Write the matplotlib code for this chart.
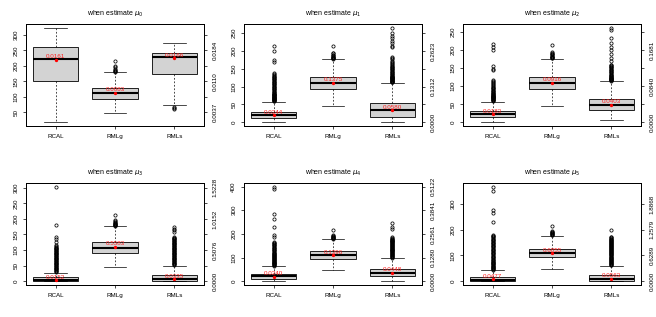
import matplotlib
matplotlib.use('Agg')
import matplotlib.pyplot as plt

plt.rcParams['font.family'] = ['Liberation Sans', 'DejaVu Sans']

groups = ['RCAL', 'RMLg', 'RMLs']
titles = ['when estimate $\\mu_0$', 'when estimate $\\mu_1$', 'when estimate $\\mu_2$',
          'when estimate $\\mu_3$', 'when estimate $\\mu_4$', 'when estimate $\\mu_5$']

# ---- box statistics per panel (RCAL, RMLg, RMLs) ----
p0_med = [222, 111, 228]; p0_q1 = [152, 94, 173]; p0_q3 = [260, 130, 240]
p0_lo = [18, 49, 75]; p0_hi = [323, 179, 274]; p0_mean = [219, 113, 225]
p0_fl_rcal = []
p0_fl_rmlg = [181, 183, 185, 187, 190, 195, 200, 216]
p0_fl_rmls = [62, 64, 66]
p0_text = ['0.0161', '0.0083', '0.0166']
p0_lticks = [50, 100, 150, 200, 250, 300]
p0_rticks = [50, 100, 150, 200, 250, 300]
p0_rlabels = ['0.0037', '', '0.0110', '', '0.0184', '']

p1_med = [20, 110, 34]; p1_q1 = [11, 94, 16]; p1_q3 = [27.5, 127, 54]
p1_lo = [0, 46, 0]; p1_hi = [57.7, 177, 111]; p1_mean = [19, 110, 34]
p1_fl_rcal = [59, 60, 61, 62, 63, 64, 65, 66, 67, 68, 69, 70, 71, 72, 73, 74, 75, 76, 77, 78,
              79, 80, 82, 84, 86, 88, 90, 92, 94, 96, 98, 100, 102, 104, 106, 108, 110, 112,
              114, 116, 118, 120, 122, 124, 126, 128, 130, 133, 136, 138, 169, 175, 200, 215]
p1_fl_rmlg = [178, 179, 180, 181, 182, 184, 186, 188, 190, 193, 195, 214]
p1_fl_rmls = [112, 113, 114, 115, 116, 117, 118, 119, 120, 121, 122, 123, 124, 125, 126, 127,
              128, 129, 130, 132, 134, 136, 138, 140, 142, 144, 146, 148, 150, 152, 154, 156,
              158, 160, 162, 165, 169, 172, 176, 180, 183, 210, 215, 222, 228, 235, 242, 250, 265]
p1_text = ['0.0244', '0.1375', '0.0580']
p1_lticks = [0, 50, 100, 150, 200, 250]
p1_rticks = [0, 50, 100, 150, 200, 250]
p1_rlabels = ['0.0000', '', '0.1312', '', '0.2623', '']

p2_med = [23, 109, 48]; p2_q1 = [15, 92.6, 33]; p2_q3 = [31.5, 126, 65]
p2_lo = [0, 44, 5]; p2_hi = [56.5, 176, 113]; p2_mean = [22, 109, 48]
p2_fl_rcal = [60, 61, 62, 63, 64, 65, 66, 67, 68, 69, 70, 71, 72, 73, 74, 75, 76, 77, 78, 80,
              82, 84, 86, 88, 90, 92, 94, 96, 98, 100, 103, 106, 109, 112, 115, 118, 144, 148,
              157, 199, 208, 218]
p2_fl_rmlg = [178, 179, 180, 181, 182, 184, 186, 188, 190, 193, 195, 214]
p2_fl_rmls = [115, 116, 117, 118, 119, 120, 121, 122, 123, 124, 125, 126, 127, 128, 130, 132,
              134, 136, 138, 140, 142, 144, 146, 148, 150, 152, 154, 156, 158, 160, 169, 179,
              188, 199, 208, 220, 234, 257, 262]
p2_text = ['0.0183', '0.0916', '0.0403']
p2_lticks = [0, 50, 100, 150, 200, 250]
p2_rticks = [0, 50, 100, 150, 200, 250]
p2_rlabels = ['0.0000', '', '0.0840', '', '0.1681', '']

p3_med = [3, 108, 6]; p3_q1 = [0.5, 91, 0.5]; p3_q3 = [12, 125, 19]
p3_lo = [0, 46, 0]; p3_hi = [27, 177, 50]; p3_mean = [3, 110, 6.6]
p3_fl_rcal = [30, 32, 34, 36, 38, 40, 42, 44, 46, 48, 50, 52, 54, 56, 58, 60, 62, 64, 66, 68,
              70, 72, 74, 76, 78, 80, 82, 84, 86, 88, 90, 92, 94, 96, 98, 100, 102, 104, 106,
              108, 110, 112, 115, 126, 137, 142, 180, 303]
p3_fl_rmlg = [178, 179, 180, 181, 182, 184, 186, 188, 190, 193, 195, 214]
p3_fl_rmls = [52, 54, 56, 58, 60, 62, 64, 66, 68, 70, 72, 74, 76, 78, 80, 82, 84, 86, 88, 90,
              92, 94, 96, 98, 100, 102, 104, 106, 108, 110, 112, 114, 116, 118, 120, 122, 124,
              126, 128, 130, 132, 134, 136, 138, 140, 142, 159, 165, 169, 175]
p3_text = ['0.0152', '0.5583', '0.0335']
p3_lticks = [0, 50, 100, 150, 200, 250, 300]
p3_rticks = [0, 50, 100, 150, 200, 250, 300]
p3_rlabels = ['0.0000', '', '0.5076', '', '1.0152', '', '1.5228']

p4_med = [21, 110, 35]; p4_q1 = [10, 93, 21]; p4_q3 = [32, 127, 53.5]
p4_lo = [0, 46, 0]; p4_hi = [63, 177, 99]; p4_mean = [19, 109, 35]
p4_fl_rcal = [65, 67, 69, 71, 73, 75, 77, 79, 81, 83, 85, 87, 89, 91, 93, 95, 97, 99, 101, 103,
              105, 107, 109, 111, 113, 115, 118, 121, 124, 127, 130, 133, 136, 139, 142, 145,
              148, 151, 154, 157, 160, 163, 166, 187, 194, 230, 261, 286, 389, 399]
p4_fl_rmlg = [180, 181, 182, 184, 186, 188, 190, 193, 195, 215]
p4_fl_rmls = [100, 102, 104, 106, 108, 110, 112, 114, 116, 118, 120, 122, 124, 126, 128, 130,
              132, 134, 136, 138, 140, 142, 144, 146, 148, 150, 152, 154, 156, 158, 160, 162,
              164, 166, 168, 170, 172, 174, 176, 178, 180, 183, 187, 222, 230, 246]
p4_text = ['0.0240', '0.1396', '0.0448']
p4_lticks = [0, 100, 200, 300, 400]
p4_rticks = [0, 100, 200, 300, 400]
p4_rlabels = ['0.0000', '0.1280', '0.2561', '0.3841', '0.5122']

p5_med = [6.5, 108, 8]; p5_q1 = [0.5, 95, 0.5]; p5_q3 = [17, 127, 23]
p5_lo = [0, 48, 0]; p5_hi = [43, 177, 60]; p5_mean = [7.6, 109, 9]
p5_fl_rcal = [45, 47, 49, 51, 53, 55, 57, 59, 61, 63, 65, 67, 69, 71, 73, 75, 78, 81, 84, 87,
              90, 93, 96, 99, 102, 105, 108, 111, 114, 117, 120, 123, 126, 129, 132, 135, 138,
              141, 144, 147, 150, 153, 156, 159, 162, 165, 168, 171, 174, 177, 180, 229, 264,
              277, 351, 367]
p5_fl_rmlg = [180, 181, 182, 184, 186, 188, 190, 193, 195, 214]
p5_fl_rmls = [62, 64, 66, 68, 70, 72, 74, 76, 78, 80, 82, 84, 86, 88, 90, 92, 94, 96, 98, 100,
              102, 104, 106, 108, 110, 112, 114, 116, 118, 120, 122, 124, 126, 128, 130, 132,
              134, 136, 138, 140, 142, 144, 146, 148, 150, 152, 154, 156, 158, 160, 162, 164,
              166, 168, 170, 173, 199]
p5_text = ['0.0477', '0.6855', '0.0563']
p5_lticks = [0, 100, 200, 300]
p5_rticks = [0, 100, 200, 300]
p5_rlabels = ['0.0000', '0.6289', '1.2579', '1.8868']

panels = [
    (p0_med, p0_q1, p0_q3, p0_lo, p0_hi, p0_mean, [p0_fl_rcal, p0_fl_rmlg, p0_fl_rmls], p0_text, p0_lticks, p0_rticks, p0_rlabels),
    (p1_med, p1_q1, p1_q3, p1_lo, p1_hi, p1_mean, [p1_fl_rcal, p1_fl_rmlg, p1_fl_rmls], p1_text, p1_lticks, p1_rticks, p1_rlabels),
    (p2_med, p2_q1, p2_q3, p2_lo, p2_hi, p2_mean, [p2_fl_rcal, p2_fl_rmlg, p2_fl_rmls], p2_text, p2_lticks, p2_rticks, p2_rlabels),
    (p3_med, p3_q1, p3_q3, p3_lo, p3_hi, p3_mean, [p3_fl_rcal, p3_fl_rmlg, p3_fl_rmls], p3_text, p3_lticks, p3_rticks, p3_rlabels),
    (p4_med, p4_q1, p4_q3, p4_lo, p4_hi, p4_mean, [p4_fl_rcal, p4_fl_rmlg, p4_fl_rmls], p4_text, p4_lticks, p4_rticks, p4_rlabels),
    (p5_med, p5_q1, p5_q3, p5_lo, p5_hi, p5_mean, [p5_fl_rcal, p5_fl_rmlg, p5_fl_rmls], p5_text, p5_lticks, p5_rticks, p5_rlabels),
]

W, H = 656, 317
fig = plt.figure(figsize=(W / 100, H / 100), dpi=100)
fig.patch.set_facecolor('white')

col_left = [26, 244, 463]
row_top = [24, 183]
aw, ah = 178, 102

FS = 4.5
for i, (med, q1, q3, lo, hi, mean, fliers, texts, lticks, rticks, rlabels) in enumerate(panels):
    r, c = divmod(i, 3)
    ax = fig.add_axes([col_left[c] / W, 1 - (row_top[r] + ah) / H, aw / W, ah / H])
    stats = []
    for j in range(3):
        stats.append(dict(med=med[j], q1=q1[j], q3=q3[j], whislo=lo[j], whishi=hi[j],
                          fliers=fliers[j], label=groups[j]))
    ax.bxp(stats, positions=[1, 2, 3], widths=0.76, patch_artist=True,
           boxprops=dict(facecolor='#D3D3D3', edgecolor='black', linewidth=0.6),
           medianprops=dict(color='black', linewidth=1.5, solid_capstyle='butt'),
           whiskerprops=dict(color='black', linewidth=0.5, linestyle=(0, (2.5, 2.5))),
           capprops=dict(color='black', linewidth=0.5), capwidths=0.38,
           flierprops=dict(marker='o', markersize=2.3, markerfacecolor='none',
                           markeredgecolor='black', markeredgewidth=0.55))
    ax.plot([1, 2, 3], mean, 'o', color='red', markersize=2.4, markeredgewidth=0, zorder=5)
    for j in range(3):
        ax.annotate(texts[j], (j + 1, mean[j]), xytext=(0, 2.2), textcoords='offset points',
                    ha='center', va='center', color='#FF2020', fontsize=FS, zorder=6)
    allv = lo + hi + [v for f in fliers for v in f]
    vmin, vmax = min(allv), max(allv)
    ext = 0.04 * (vmax - vmin)
    ax.set_ylim(vmin - ext, vmax + ext)
    ax.set_xlim(0.5, 3.5)
    ax.set_yticks(lticks)
    ax.set_yticklabels([str(t) for t in lticks], rotation=90, va='center', fontsize=FS)
    ax.set_xticks([1, 2, 3])
    ax.set_xticklabels(groups, fontsize=FS)
    ax.tick_params(axis='both', length=2, width=0.5, pad=3.5, color='black')
    ax.tick_params(axis='x', pad=4)
    for s in ax.spines.values():
        s.set_linewidth(0.7)
    ax.set_title(titles[i], fontsize=5, pad=6)
    ax2 = ax.twinx()
    ax2.set_ylim(ax.get_ylim())
    ax2.set_yticks(rticks)
    ax2.set_yticklabels(rlabels, rotation=90, va='center', fontsize=FS)
    ax2.tick_params(axis='y', length=2, width=0.5, pad=4, color='black')
    for s in ax2.spines.values():
        s.set_linewidth(0.7)

fig.savefig('out.png', dpi=100, facecolor='white')
